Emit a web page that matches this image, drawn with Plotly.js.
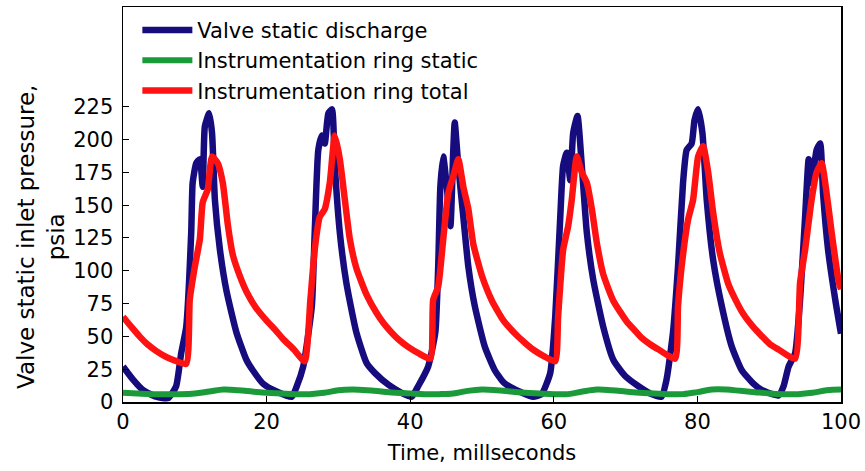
<!DOCTYPE html>
<html>
<head>
<meta charset="utf-8">
<script src="https://cdn.plot.ly/plotly-3.0.1.min.js"></script>
<style>html,body{margin:0;padding:0;background:#fff}#chart{width:865px;height:471px}</style>
</head>
<body>
<div id="chart"></div>
<script>
const seriesNames = ["Valve static discharge", "Instrumentation ring static", "Instrumentation ring total"];
const xTitle = "Time, millseconds";
const yTitle = "Valve static inlet pressure,<br>psia";

const blueX = [0,1.4,2.8,4.6,6.3,7.4,8.1,8.8,9.5,9.7,10.2,10.7,11.1,11.4,12.0,12.4,12.8,13.5,14.4,15.8,17.2,18.1,19.5,21.4,23.5,24.2,25.1,26.3,26.7,27.2,27.7,28.1,28.6,29.1,29.5,30.2,31.1,32.5,33.9,35.1,37.0,38.8,40.2,41.1,42.5,43.5,43.9,44.2,44.6,45.1,45.6,46.0,46.2,46.7,47.4,48.1,49.0,50.4,51.8,53.0,54.8,57.1,58.3,59.5,60.2,60.9,61.3,61.8,62.3,62.7,63.3,63.9,64.6,65.5,66.9,68.3,69.9,71.8,73.6,75.0,75.7,76.6,77.3,78.0,78.5,79.2,79.6,80.1,80.7,81.3,82.2,83.4,84.8,86.2,87.8,89.0,91.3,92.0,92.7,93.6,94.3,95.0,95.5,95.9,96.6,97.1,97.5,98.2,99.2,100];
const blueY = [27,17,9,4,3,12,37,57,129,167,182,185,164,210,220,205,154,116,85,53,32,24,14,8,4,12,27,73,129,192,203,197,220,223,180,129,91,53,30,22,13,7,4,12,27,53,103,164,187,164,134,192,213,180,141,103,73,42,24,15,9,4,6,22,65,141,180,190,169,205,218,180,129,93,57,32,20,12,6,4,17,53,103,167,192,197,215,223,205,154,108,73,42,24,14,9,5,12,27,37,78,141,185,167,192,197,159,116,78,52];

const greenX = [0,2,4,6,8,10,12,14,16,18,20,22,24,26,28,30,32,34,36,38,40,42,44,46,48,50,52,54,56,58,60,62,64,66,68,70,72,74,76,78,80,82,84,86,88,90,92,94,96,98,100];
const greenY = [7,6.5,6,6,6,6.5,8,9.5,9,8,7,6.5,6,6,7,9,9.5,9,8,7,6.5,6,6,6.5,8.5,9.5,9,8,7,6.5,6,6,8,9.5,9,8,7,6.5,6,6,7.5,9.5,9.5,8.5,7.5,6.5,6,6,7,9,9.5];

const redX = [0,1.2,2.3,3.4,4.6,5.8,7.0,8.8,9.3,10.0,10.7,11.1,11.8,12.4,13.2,13.9,14.6,15.3,16.2,17.2,18.5,20.0,21.2,22.3,23.8,25.3,26.1,26.7,27.4,28.1,28.8,29.5,30.2,30.9,31.6,32.5,33.9,35.3,36.3,37.4,38.5,39.7,41.2,42.8,43.2,43.9,44.6,45.3,46.0,46.7,47.4,48.1,48.8,50.0,51.4,53.0,54.8,56.0,57.1,58.6,60.2,60.6,61.3,62.0,62.5,63.2,63.9,64.6,65.3,66.0,66.9,68.3,70.2,71.2,72.2,73.4,74.6,76.9,77.3,77.8,78.7,79.4,80.1,80.8,81.5,82.2,83.1,84.3,85.3,86.4,87.8,89.0,90.1,91.3,93.6,94.3,95.0,95.9,96.6,97.3,98.0,98.7,99.7,100];
const redY = [65,57,50,44,39,35,32,29,78,103,124,152,162,187,182,167,135,112,97,84,72,62,55,48,40,31,78,116,141,147,167,203,185,154,124,102,82,68,60,53,47,42,37,33,78,88,124,159,172,185,164,147,120,96,77,62,51,45,40,35,31,65,116,134,154,187,175,167,147,121,97,77,61,55,49,44,40,33,73,103,139,154,187,195,175,144,114,90,78,67,57,50,44,40,33,91,116,154,175,182,159,129,91,86];

const yTicks = [0,25,50,75,100,125,150,175,200,225];
const xTicks = [0,20,40,60,80,100];

const FONT = "DejaVu Sans, Liberation Sans, Arial, sans-serif";
const traces = [
  {x: blueX, y: blueY, name: seriesNames[0], mode: "lines", line: {color: "#160c7e", width: 6.5, shape: "spline", smoothing: 0.5}},
  {x: greenX, y: greenY, name: seriesNames[1], mode: "lines", line: {color: "#1b9a3a", width: 6, shape: "spline"}},
  {x: redX, y: redY, name: seriesNames[2], mode: "lines", line: {color: "#ff1212", width: 6.5, shape: "spline", smoothing: 0.5}}
];
const layout = {
  width: 865, height: 471,
  margin: {l: 123, r: 24, t: 7, b: 69},
  paper_bgcolor: "#fff", plot_bgcolor: "#fff",
  font: {family: FONT, size: 21, color: "#000"},
  showlegend: true,
  legend: {x: 0.02, y: 0.993, xanchor: "left", yanchor: "top", bgcolor: "rgba(0,0,0,0)",
           font: {family: FONT, size: 21, color: "#000"}, itemwidth: 50, tracegroupgap: 0},
  xaxis: {range: [0, 100], tickvals: xTicks, ticks: "inside", ticklen: 6, tickcolor: "#000",
          showline: true, linecolor: "#000", linewidth: 1.5, mirror: true, showgrid: false, zeroline: false,
          tickfont: {size: 21}, title: {text: xTitle, font: {size: 21}, standoff: 12}},
  yaxis: {range: [0, 301], tickvals: yTicks, ticks: "inside", ticklen: 6, tickcolor: "#000",
          showline: true, linecolor: "#000", linewidth: 1.5, mirror: true, showgrid: false, zeroline: false,
          ticklabelstandoff: 4, tickfont: {size: 21}},
  annotations: [{text: yTitle, xref: "paper", yref: "paper", x: -0.114, y: 0.418,
                 xanchor: "center", yanchor: "middle", textangle: -90, showarrow: false,
                 font: {family: FONT, size: 23, color: "#000"}}]
};
Plotly.newPlot("chart", traces, layout, {staticPlot: true, displayModeBar: false});
</script>
</body>
</html>
